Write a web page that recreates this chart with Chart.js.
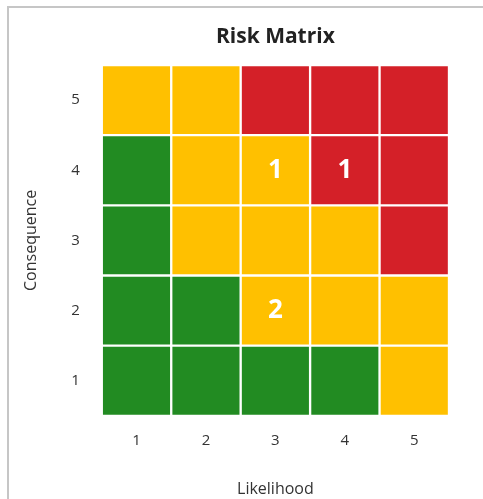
<!DOCTYPE html>
<html>
<head>
<meta charset="utf-8">
<script src="https://cdn.jsdelivr.net/npm/chart.js@4"></script>
<style>
  html, body { margin: 0; padding: 0; background: #fff; overflow: hidden; }
  #frame { position: absolute; left: 7px; top: 6px; width: 600px; height: 600px; border: 2px solid #c6c6c6; }
  #wrap { position: absolute; left: 0; top: 0; width: 483px; height: 499px; }
</style>
</head>
<body>
<div id="frame"></div>
<div id="wrap"><canvas id="risk"></canvas></div>
<script>
// likelihood along x, consequence along y
var likelihood = ['1', '2', '3', '4', '5'];
var consequence = [1, 2, 3, 4, 5];

// rating per cell, rows listed from consequence 1 up to 5
var ratings = [
    ['G', 'G', 'G', 'G', 'Y'],
    ['G', 'G', 'Y', 'Y', 'Y'],
    ['G', 'Y', 'Y', 'Y', 'R'],
    ['G', 'Y', 'Y', 'R', 'R'],
    ['Y', 'Y', 'R', 'R', 'R']
];

// number of risks sitting in each cell
var counts = [
    [0, 0, 0, 0, 0],
    [0, 0, 2, 0, 0],
    [0, 0, 0, 0, 0],
    [0, 0, 1, 1, 0],
    [0, 0, 0, 0, 0]
];

var ratingColors = { G: '#228b22', Y: '#ffc000', R: '#d42028' };

var datasets = consequence.map(function (c, i) {
    return {
        label: 'Consequence ' + c,
        data: likelihood.map(function () { return 1; }),
        backgroundColor: ratings[i].map(function (r) { return ratingColors[r]; }),
        borderColor: '#ffffff',
        borderWidth: 1.5,
        borderSkipped: false,
        barPercentage: 1,
        categoryPercentage: 1
    };
});

// counts inside the cells, and the title centred over the grid
var countLabels = {
    id: 'countLabels',
    afterDatasetsDraw: function (chart) {
        var ctx = chart.ctx;
        var area = chart.chartArea;
        ctx.save();
        ctx.textAlign = 'center';
        ctx.textBaseline = 'middle';
        ctx.fillStyle = '#222';
        ctx.font = 'bold 21px "Open Sans", sans-serif';
        ctx.fillText('Risk Matrix', (area.left + area.right) / 2, 37);
        ctx.fillStyle = '#ffffff';
        ctx.font = 'bold 26px "Open Sans", sans-serif';
        chart.data.datasets.forEach(function (ds, i) {
            chart.getDatasetMeta(i).data.forEach(function (bar, j) {
                var n = counts[i][j];
                if (!n) return;
                var mid = (bar.y + bar.base) / 2;
                ctx.fillText(String(n), bar.x, mid);
            });
        });
        ctx.restore();
    }
};

Chart.defaults.font.family = '"Open Sans", sans-serif';
Chart.defaults.color = '#333';

new Chart(document.getElementById('risk'), {
    type: 'bar',
    data: { labels: likelihood, datasets: datasets },
    options: {
        responsive: true,
        maintainAspectRatio: false,
        animation: false,
        layout: { padding: { left: 18, right: 34, top: 65, bottom: 0 } },
        plugins: {
            legend: { display: false },
            tooltip: { enabled: false },
            title: { display: false }
        },
        scales: {
            x: {
                stacked: true,
                grid: { display: false },
                border: { display: false },
                ticks: { font: { size: 15 }, padding: 8 },
                title: { display: true, text: 'Likelihood', font: { size: 16 }, padding: { top: 22, bottom: 0 } }
            },
            y: {
                stacked: true,
                min: 0,
                max: 5,
                grid: { display: false },
                border: { display: false },
                afterBuildTicks: function (axis) {
                    axis.ticks = consequence.map(function (c) { return { value: c - 0.5 }; });
                },
                ticks: {
                    font: { size: 15 },
                    padding: 14,
                    callback: function (v) { return String(v + 0.5); }
                },
                title: { display: true, text: 'Consequence', font: { size: 16 }, padding: { bottom: 16 } }
            }
        }
    },
    plugins: [countLabels]
});
</script>
</body>
</html>
